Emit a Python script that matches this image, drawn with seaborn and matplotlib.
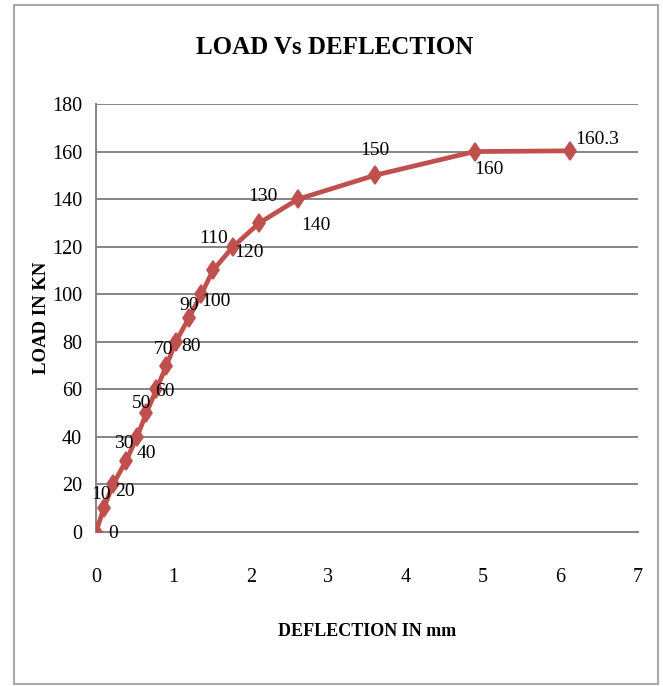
import matplotlib
matplotlib.use("Agg")
import matplotlib.pyplot as plt
import seaborn as sns
import pandas as pd
from matplotlib.patches import Rectangle

# Load-deflection test readings
deflection_mm = [0, 0.10, 0.22, 0.39, 0.53, 0.65, 0.78, 0.91, 1.03, 1.20,
                 1.36, 1.51, 1.77, 2.11, 2.61, 3.60, 4.89, 6.12]
load_kn = [0, 10, 20, 30, 40, 50, 60, 70, 80, 90,
           100, 110, 120, 130, 140, 150, 160, 160.3]
point_labels = [f"{v:g}" for v in load_kn]

x_ticks = [0, 1, 2, 3, 4, 5, 6, 7]
y_ticks = [0, 20, 40, 60, 80, 100, 120, 140, 160, 180]

# where each value label sits relative to its marker (pixels: right, down)
label_offsets_px = [(17, 1), (-3, -14), (12, 7), (-2, -17), (9, 17), (-5, -10),
                    (8, 2), (-3, -16), (15, 5), (0, -12), (15, 7), (1, -32),
                    (16, 6), (4, -26), (18, 26), (0, -25), (14, 18), (27, -11)]

LINE_RED = "#C0504D"
GRID_GREY = "#858585"
SERIF = ["Liberation Serif", "DejaVu Serif"]

sns.set_theme(style="white")
plt.rcParams["font.family"] = SERIF
plt.rcParams["text.color"] = "black"
plt.rcParams["axes.labelcolor"] = "black"

df = pd.DataFrame({"deflection": deflection_mm, "load": load_kn})

fig = plt.figure(figsize=(6.63, 6.86), dpi=100)
W, H = 663, 686
ax = fig.add_axes([96 / W, 1 - 532 / H, (638 - 96) / W, (532 - 104) / H])

sns.lineplot(data=df, x="deflection", y="load", ax=ax, color=LINE_RED,
             linewidth=3.4, marker="d", markersize=9.5, markeredgewidth=1.2,
             markeredgecolor=LINE_RED, markerfacecolor=LINE_RED, zorder=3)

ax.set_xlim(0, 7)
ax.set_ylim(0, 180)
ax.set_xticks(x_ticks)
ax.set_yticks(y_ticks)
ax.tick_params(axis="both", length=0, labelsize=14.5, colors="black")
ax.tick_params(axis="x", pad=26)
ax.tick_params(axis="y", pad=10)

ax.yaxis.grid(True, color=GRID_GREY, linewidth=1.4)
ax.xaxis.grid(False)
for side in ["top", "right"]:
    ax.spines[side].set_visible(False)
for side in ["left", "bottom"]:
    ax.spines[side].set_color(GRID_GREY)
    ax.spines[side].set_linewidth(1.4)

for x, y, txt, (dx, dy) in zip(deflection_mm, load_kn, point_labels, label_offsets_px):
    ax.annotate(txt, (x, y), xytext=(dx * 0.72, -dy * 0.72),
                textcoords="offset points", ha="center", va="center",
                fontsize=14, color="black", zorder=4)

ax.set_xlabel("DEFLECTION IN mm", fontsize=13, fontweight="bold")
ax.set_ylabel("LOAD IN KN", fontsize=13.5, fontweight="bold")
ax.xaxis.set_label_coords(0.5, (532 - 632) / 428)
ax.yaxis.set_label_coords((41 - 96) / 542, 0.5)
ax.xaxis.label.set_va("center")
ax.yaxis.label.set_va("center")

fig.text(335 / W, 1 - 47 / H, "LOAD Vs DEFLECTION", ha="center", va="center",
         fontsize=18, fontweight="bold", color="black")

# outer chart frame
fig.patches.append(Rectangle((14 / W, 1 - 684 / H), (658 - 14) / W, (684 - 5) / H,
                             transform=fig.transFigure, fill=False,
                             edgecolor="#A9A9A9", linewidth=1.5))

fig.savefig("out.png", dpi=100)
